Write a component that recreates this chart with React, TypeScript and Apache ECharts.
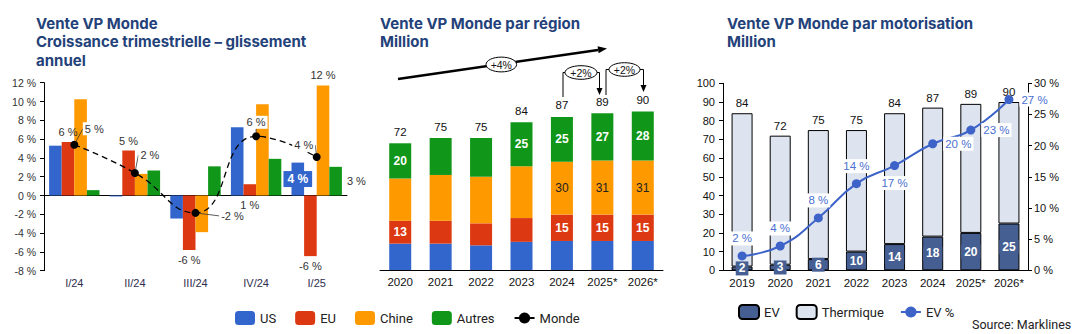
import React, { useEffect, useRef } from 'react';
import * as echarts from 'echarts';

// ---------- Left chart: quarterly growth ----------
const quarters = ['I/24', 'II/24', 'III/24', 'IV/24', 'I/25'];
const qUS = [5.3, -0.1, -2.45, 7.27, 3.5];
const qEU = [5.7, 4.8, -5.8, 1.2, -6.45];
const qChine = [10.25, 2.3, -3.9, 9.7, 11.7];
const qAutres = [0.57, 2.66, 3.1, 3.9, 3.05];
const qMonde = [5.4, 2.4, -1.85, 6.3, 4.1];
const qUSLabels = ['', '', '', '', '4 %'];
const qEULabels = ['6 %', '5 %', '-6 %', '1 %', '-6 %'];
const qChineLabels = ['', '', '', '', '12 %'];
const qAutresLabels = ['', '', '', '', '3 %'];
const qMondeLabels = ['5 %', '2 %', '-2 %', '6 %', '4 %'];

// ---------- Middle chart: by region ----------
const years = ['2020', '2021', '2022', '2023', '2024', '2025*', '2026*'];
const rUS = [15, 15, 14, 16, 16.5, 16.5, 16.5];
const rEU = [13, 13, 12.5, 13.5, 15, 15, 15];
const rChine = [24, 26, 26.5, 29.5, 30, 30.7, 30.7];
const rAutres = [20, 21, 22, 25, 25.5, 26.8, 27.8];
const rTotals = [72, 75, 75, 84, 87, 89, 90];
const rEULabels = ['13', '', '', '', '15', '15', '15'];
const rChineLabels = ['', '', '', '', '30', '31', '31'];
const rAutresLabels = ['20', '', '', '25', '25', '27', '28'];
const growthLabels = ['+4%', '+2%', '+2%'];

// ---------- Right chart: by powertrain ----------
const mYears = ['2019', '2020', '2021', '2022', '2023', '2024', '2025*', '2026*'];
const mEV = [2, 3, 6, 10, 14, 18, 20, 25];
const mThermique = [82, 69, 69, 65, 70, 69, 69, 65];
const mTotals = [84, 72, 75, 75, 84, 87, 89, 90];
const mEVPct = [2.3, 3.9, 8.4, 13.9, 16.8, 20.3, 22.5, 27.4];
const mEVPctLabels = ['2 %', '4 %', '8 %', '14 %', '17 %', '20 %', '23 %', '27 %'];

const C_US = '#3366cc';
const C_EU = '#dc3912';
const C_CH = '#ff9900';
const C_AU = '#109618';
const C_EV = '#465f93';
const C_TH = '#dde3ef';
const C_LINE = '#3d63c9';
const C_TITLE = '#24427a';
const FONT = 'Roboto, "Liberation Sans", Arial, sans-serif';
const TFONT = 'Inter, Roboto, sans-serif';
const AXFONT = '"Liberation Sans", Arial, sans-serif';

const mondeOffsets: number[][] = [[20, -16], [15, -18], [37, 3], [0, -14], [-13, -12]];
const evPctPos = ['top', 'top', 'top', 'top', 'bottom', 'right', 'right', 'right'];

function barItems(values: number[], labels: string[], extra: (i: number, v: number) => any = () => ({})) {
  return values.map((v, i) => ({
    value: v,
    label: labels[i]
      ? { show: true, formatter: labels[i], ...extra(i, v) }
      : { show: false },
  }));
}

export default function App() {
  const ref = useRef<HTMLDivElement>(null);
  useEffect(() => {
    if (!ref.current) return;
    const chart = echarts.init(ref.current, undefined, { renderer: 'svg' });
    const axisLbl = { fontFamily: AXFONT, fontSize: 10.5, color: '#333' };
    const blackLine = { lineStyle: { color: '#000', width: 1 } };
    const qLabelBase = { fontFamily: AXFONT, fontSize: 11, color: '#333' };
    const titleStyle = { fontFamily: TFONT, fontSize: 15, fontWeight: 'bold', color: C_TITLE, lineHeight: 18.5 };

    const option: any = {
      animation: false,
      backgroundColor: '#fff',
      title: [
        {
          text: 'Vente VP Monde\nCroissance trimestrielle – glissement\nannuel',
          left: 36, top: 14, padding: 0, textStyle: titleStyle,
        },
        {
          text: 'Vente VP Monde par région\nMillion',
          left: 380, top: 14, padding: 0, textStyle: titleStyle,
        },
        {
          text: 'Vente VP Monde par motorisation\nMillion',
          left: 727, top: 14, padding: 0, textStyle: titleStyle,
        },
      ],
      legend: [
        {
          data: ['US', 'EU', 'Chine', 'Autres', { name: 'Monde', lineStyle: { type: 'solid' } }],
          left: 235, top: 311, padding: 0, itemWidth: 20, itemHeight: 14, itemGap: 19,
          textStyle: { fontFamily: FONT, fontSize: 13, color: '#222' },
        },
        {
          data: ['EV', 'Thermique', 'EV %'],
          left: 738, top: 304, padding: 0, itemWidth: 20, itemHeight: 14, itemGap: 16,
          textStyle: { fontFamily: FONT, fontSize: 13, color: '#222' },
        },
      ],
      grid: [
        { left: 44, top: 82.7, width: 303, height: 188 },
        { left: 380, top: 94, width: 283, height: 176 },
        { left: 723, top: 83.3, width: 305, height: 187 },
      ],
      xAxis: [
        {
          gridIndex: 0, type: 'category', data: quarters,
          axisLine: { onZero: true, ...blackLine }, axisTick: { show: false }, axisLabel: { show: false },
        },
        {
          gridIndex: 0, type: 'category', data: quarters, position: 'bottom',
          axisLine: { show: false, onZero: false }, axisTick: { show: false },
          axisLabel: { ...axisLbl, fontSize: 11, color: '#2e2e4e', margin: 7, interval: 0 },
        },
        {
          gridIndex: 1, type: 'category', data: years,
          axisLine: blackLine, axisTick: { show: false },
          axisLabel: { ...axisLbl, fontSize: 11.5, color: '#111', margin: 6, interval: 0 },
        },
        {
          gridIndex: 2, type: 'category', data: mYears,
          axisLine: blackLine, axisTick: { show: false },
          axisLabel: { ...axisLbl, fontSize: 11.5, color: '#111', margin: 7, interval: 0 },
        },
      ],
      yAxis: [
        {
          gridIndex: 0, type: 'value', min: -8, max: 12, interval: 2,
          axisLine: { show: true, ...blackLine }, axisTick: { show: true, length: 4, ...blackLine },
          splitLine: { show: false },
          axisLabel: { ...axisLbl, formatter: '{value} %', margin: 8 },
        },
        { gridIndex: 1, type: 'value', min: 0, max: 100, show: false },
        {
          gridIndex: 2, type: 'value', min: 0, max: 100, interval: 10,
          axisLine: { show: true, ...blackLine }, axisTick: { show: true, length: 4, ...blackLine },
          splitLine: { show: false },
          axisLabel: { ...axisLbl, fontSize: 11, color: '#111', margin: 8 },
        },
        {
          gridIndex: 2, type: 'value', position: 'right', min: 0, max: 30, interval: 5,
          axisLine: { show: true, ...blackLine }, axisTick: { show: true, length: 4, ...blackLine },
          splitLine: { show: false },
          axisLabel: { ...axisLbl, fontSize: 11, color: '#111', formatter: '{value} %', margin: 6 },
        },
      ],
      series: [
        // Left chart
        {
          name: 'US', type: 'bar', xAxisIndex: 0, yAxisIndex: 0, barWidth: 12.6, barGap: '0%',
          itemStyle: { color: C_US },
          data: barItems(qUS, qUSLabels, () => ({
            position: 'inside', color: '#fff', fontWeight: 'bold', fontSize: 12, fontFamily: AXFONT,
            backgroundColor: C_US, padding: [2, 4],
          })),
        },
        {
          name: 'EU', type: 'bar', xAxisIndex: 0, yAxisIndex: 0, barWidth: 12.6, barGap: '0%',
          itemStyle: { color: C_EU },
          data: barItems(qEU, qEULabels, (i, v) => ({
            ...qLabelBase, position: v < 0 || i === 3 ? 'bottom' : 'top', distance: 4,
          })),
        },
        {
          name: 'Chine', type: 'bar', xAxisIndex: 0, yAxisIndex: 0, barWidth: 12.6, barGap: '0%',
          itemStyle: { color: C_CH },
          data: barItems(qChine, qChineLabels, () => ({ ...qLabelBase, position: 'top', distance: 5 })),
        },
        {
          name: 'Autres', type: 'bar', xAxisIndex: 0, yAxisIndex: 0, barWidth: 12.6, barGap: '0%',
          itemStyle: { color: C_AU },
          data: barItems(qAutres, qAutresLabels, () => ({ ...qLabelBase, position: 'right', distance: 5 })),
        },
        {
          name: 'Monde', type: 'line', xAxisIndex: 0, yAxisIndex: 0, smooth: true,
          symbol: 'circle', symbolSize: 8,
          itemStyle: { color: '#000' },
          lineStyle: { color: '#000', width: 1.3, type: [6, 4] },
          data: qMonde,
          label: {
            show: true, position: 'inside', ...qLabelBase,
            formatter: (p: any) => qMondeLabels[p.dataIndex],
            backgroundColor: '#fff', padding: [1, 2],
          },
          labelLayout: (p: any) => ({ dx: mondeOffsets[p.dataIndex][0], dy: mondeOffsets[p.dataIndex][1] }),
          labelLine: { show: true, lineStyle: { color: '#333', width: 0.8 } },
          z: 5,
        },
        // Middle chart
        {
          name: 'US', type: 'bar', stack: 'r', xAxisIndex: 2, yAxisIndex: 1, barWidth: 22,
          itemStyle: { color: C_US }, data: rUS,
        },
        {
          name: 'EU', type: 'bar', stack: 'r', xAxisIndex: 2, yAxisIndex: 1, barWidth: 22,
          itemStyle: { color: C_EU },
          data: barItems(rEU, rEULabels, () => ({ position: 'inside', color: '#fff', fontWeight: 'bold', fontSize: 12, fontFamily: AXFONT })),
        },
        {
          name: 'Chine', type: 'bar', stack: 'r', xAxisIndex: 2, yAxisIndex: 1, barWidth: 22,
          itemStyle: { color: C_CH },
          data: barItems(rChine, rChineLabels, () => ({ position: 'inside', color: '#222', fontSize: 12, fontFamily: AXFONT })),
        },
        {
          name: 'Autres', type: 'bar', stack: 'r', xAxisIndex: 2, yAxisIndex: 1, barWidth: 22,
          itemStyle: { color: C_AU },
          data: barItems(rAutres, rAutresLabels, () => ({ position: 'inside', color: '#fff', fontWeight: 'bold', fontSize: 12, fontFamily: AXFONT })),
        },
        {
          name: 'Total', type: 'line', xAxisIndex: 2, yAxisIndex: 1, data: rTotals,
          symbol: 'circle', symbolSize: 1, itemStyle: { color: 'rgba(0,0,0,0)' },
          lineStyle: { width: 0, opacity: 0 },
          label: { show: true, position: 'top', distance: 5, color: '#111', fontSize: 11.5, fontFamily: AXFONT },
          tooltip: { show: false },
        },
        // Right chart
        {
          name: 'EV', type: 'bar', stack: 'm', xAxisIndex: 3, yAxisIndex: 2, barWidth: 21,
          itemStyle: { color: C_EV, borderColor: '#000', borderWidth: 1 },
          data: mEV,
          label: {
            show: true, position: 'inside', color: '#fff', fontWeight: 'bold', fontSize: 12, fontFamily: AXFONT,
            backgroundColor: C_EV, padding: [1, 3],
          },
        },
        {
          name: 'Thermique', type: 'bar', stack: 'm', xAxisIndex: 3, yAxisIndex: 2, barWidth: 21,
          itemStyle: { color: C_TH, borderColor: '#000', borderWidth: 1 },
          data: mThermique,
          label: {
            show: true, position: 'top', distance: 4, color: '#111', fontSize: 11.5, fontFamily: AXFONT,
            formatter: (p: any) => String(mTotals[p.dataIndex]),
          },
        },
        {
          name: 'EV %', type: 'line', xAxisIndex: 3, yAxisIndex: 3, smooth: true,
          symbol: 'circle', symbolSize: 9,
          itemStyle: { color: C_LINE }, lineStyle: { color: C_LINE, width: 2 },
          data: mEVPct.map((v, i) => ({
            value: v,
            label: { position: evPctPos[i] },
          })),
          label: {
            show: true, color: '#4a6fd0', fontSize: 11.5, fontFamily: AXFONT, distance: 6,
            backgroundColor: '#fff', padding: [1, 2],
            formatter: (p: any) => mEVPctLabels[p.dataIndex],
          },
          z: 5,
        },
      ],
      graphic: [
        // Big +4% arrow
        { type: 'line', shape: { x1: 398, y1: 79, x2: 598, y2: 50 }, style: { stroke: '#000', lineWidth: 2.5 }, z: 10 },
        { type: 'polygon', shape: { points: [[607, 48.5], [598.6, 53.3], [597.6, 46.3]] }, style: { fill: '#000' }, z: 10 },
        { type: 'ellipse', shape: { cx: 501.3, cy: 64.5, rx: 15.3, ry: 7.4 }, style: { fill: '#fff', stroke: '#000', lineWidth: 1 }, z: 11 },
        { type: 'text', x: 501.3, y: 64.5, style: { text: growthLabels[0], fontSize: 10.5, fontFamily: AXFONT, fill: '#111', align: 'center', verticalAlign: 'middle' }, z: 12 },
        // Bracket 1
        { type: 'polyline', shape: { points: [[563, 97], [563, 72.5], [565, 72.5]] }, style: { stroke: '#000', lineWidth: 1, fill: null }, z: 10 },
        { type: 'ellipse', shape: { cx: 581, cy: 72.5, rx: 16, ry: 6.8 }, style: { fill: '#fff', stroke: '#000', lineWidth: 1 }, z: 11 },
        { type: 'text', x: 581, y: 72.5, style: { text: growthLabels[1], fontSize: 10.5, fontFamily: AXFONT, fill: '#111', align: 'center', verticalAlign: 'middle' }, z: 12 },
        { type: 'polyline', shape: { points: [[597, 72.5], [599.5, 72.5], [599.5, 88]] }, style: { stroke: '#000', lineWidth: 1, fill: null }, z: 10 },
        { type: 'polygon', shape: { points: [[596.5, 88], [602.5, 88], [599.5, 95]] }, style: { fill: '#000' }, z: 10 },
        // Bracket 2
        { type: 'polyline', shape: { points: [[606, 95], [606, 69.5], [609, 69.5]] }, style: { stroke: '#000', lineWidth: 1, fill: null }, z: 10 },
        { type: 'ellipse', shape: { cx: 624.5, cy: 69.5, rx: 15.5, ry: 6.8 }, style: { fill: '#fff', stroke: '#000', lineWidth: 1 }, z: 11 },
        { type: 'text', x: 624.5, y: 69.5, style: { text: growthLabels[2], fontSize: 10.5, fontFamily: AXFONT, fill: '#111', align: 'center', verticalAlign: 'middle' }, z: 12 },
        { type: 'polyline', shape: { points: [[640, 69.5], [643.5, 69.5], [643.5, 85]] }, style: { stroke: '#000', lineWidth: 1, fill: null }, z: 10 },
        { type: 'polygon', shape: { points: [[640.5, 85], [646.5, 85], [643.5, 92]] }, style: { fill: '#000' }, z: 10 },
        // Source
        { type: 'text', left: 972, top: 318, style: { text: 'Source: Marklines', fontSize: 12.5, fontFamily: FONT, fill: '#222' } },
      ],
    };
    chart.setOption(option);
    return () => chart.dispose();
  }, []);
  return <div ref={ref} style={{ position: 'absolute', left: 0, top: 0, width: 1074, height: 334 }} />;
}
